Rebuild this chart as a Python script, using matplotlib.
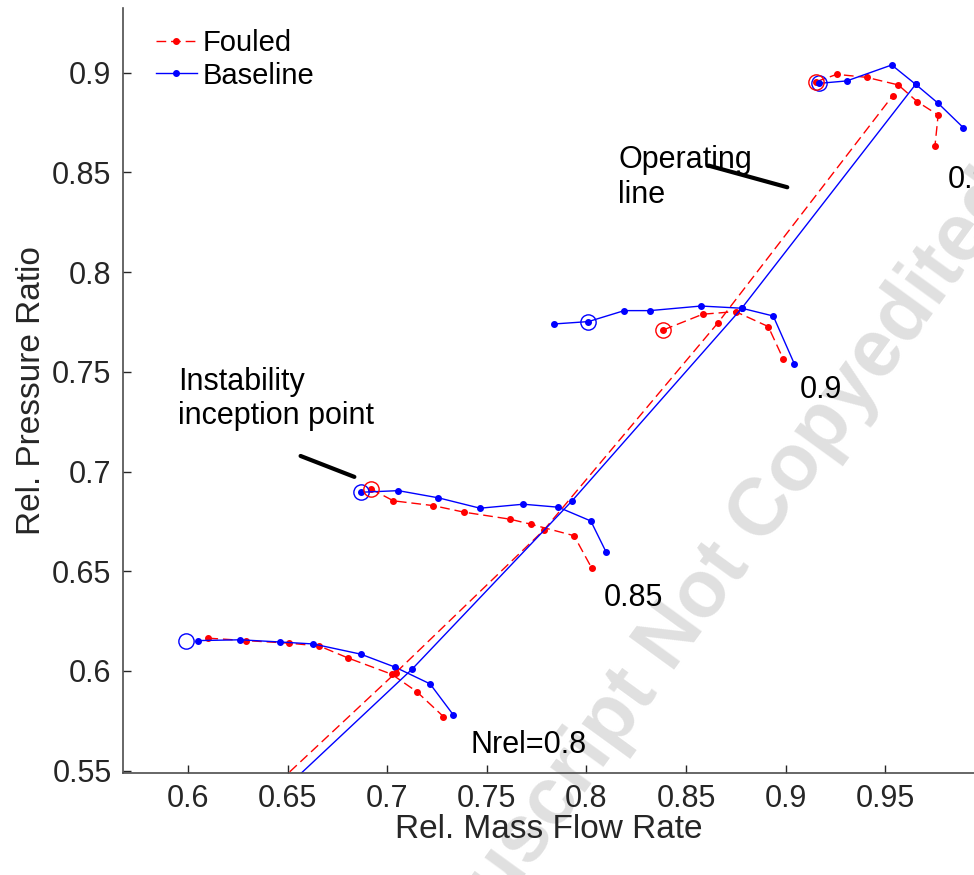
import numpy as np
import matplotlib.pyplot as plt

plt.rcParams['font.family'] = ['Liberation Sans', 'DejaVu Sans']

# Speed line Nrel = 0.8
base_x_080 = [0.6052, 0.6261, 0.6462, 0.6629, 0.6867, 0.7039, 0.7215, 0.7332]
base_y_080 = [0.6152, 0.6156, 0.6145, 0.6135, 0.6084, 0.6019, 0.5935, 0.5779]
foul_x_080 = [0.6102, 0.6291, 0.6507, 0.6659, 0.6805, 0.7023, 0.7148, 0.7282]
foul_y_080 = [0.6164, 0.6152, 0.6139, 0.6125, 0.6064, 0.5983, 0.5896, 0.5771]

# Speed line 0.85
base_x_085 = [0.6867, 0.7056, 0.7257, 0.7466, 0.7683, 0.7859, 0.8022, 0.8098]
base_y_085 = [0.6896, 0.6904, 0.6868, 0.6816, 0.6836, 0.6821, 0.6752, 0.6598]
foul_x_085 = [0.6917, 0.7031, 0.7231, 0.7386, 0.7616, 0.7720, 0.7938, 0.8027]
foul_y_085 = [0.6913, 0.6853, 0.6829, 0.6796, 0.6761, 0.6736, 0.6678, 0.6515]

# Speed line 0.9
base_x_090 = [0.7837, 0.8010, 0.8190, 0.8319, 0.8575, 0.8780, 0.8938, 0.9044]
base_y_090 = [0.7740, 0.7752, 0.7807, 0.7807, 0.7830, 0.7819, 0.7780, 0.7540]
foul_x_090 = [0.8386, 0.8584, 0.8749, 0.8913, 0.8988]
foul_y_090 = [0.7710, 0.7789, 0.7802, 0.7727, 0.7565]

# Speed line 0.95
base_x_095 = [0.9169, 0.9307, 0.9533, 0.9653, 0.9766, 0.9892]
base_y_095 = [0.8947, 0.8959, 0.9039, 0.8942, 0.8847, 0.8725]
foul_x_095 = [0.9153, 0.9257, 0.9407, 0.9566, 0.9661, 0.9766, 0.9750]
foul_y_095 = [0.8955, 0.8992, 0.8977, 0.8939, 0.8855, 0.8788, 0.8633]

# Operating lines (first point is the 0.75 speed, below the view)
op_base_x = [0.6326, 0.7126, 0.7929, 0.8780, 0.9653]
op_base_y = [0.5260, 0.6010, 0.6854, 0.7819, 0.8942]
op_foul_x = [0.6243, 0.7043, 0.7787, 0.8659, 0.9538]
op_foul_y = [0.5244, 0.5991, 0.6707, 0.7744, 0.8885]

# Instability inception points
incep_base_x = [0.5988, 0.6867, 0.8010, 0.9169]
incep_base_y = [0.6152, 0.6896, 0.7752, 0.8947]
incep_foul_x = [0.6917, 0.8386, 0.9153]
incep_foul_y = [0.6913, 0.7710, 0.8955]

speed_labels = ['Nrel=0.8', '0.85', '0.9', '0.95']
speed_label_x = [0.7416, 0.8088, 0.9072, 0.9815]
speed_label_y = [0.5629, 0.6366, 0.7409, 0.8462]

xticks = [0.6, 0.65, 0.7, 0.75, 0.8, 0.85, 0.9, 0.95]
yticks = [0.55, 0.6, 0.65, 0.7, 0.75, 0.8, 0.85, 0.9]

fig = plt.figure(figsize=(9.74, 8.75), dpi=100)
ax = fig.add_axes([0.126, 0.1166, 0.874, 0.8743])

# watermark behind everything
fig.text(0.715, 0.31, 'Manuscript Not Copyedited', rotation=54, fontsize=58,
         fontweight='bold', color='#e0e0e0', ha='center', va='center',
         zorder=-1)
ax.patch.set_alpha(0)

red = (1, 0, 0)
blue = (0, 0, 1)
kw_f = dict(color=red, ls=(0, (7, 3.5)), lw=1.0, marker='o', ms=4)
kw_b = dict(color=blue, ls='-', lw=1.0, marker='o', ms=4)

ax.plot(foul_x_080, foul_y_080, label='Fouled', **kw_f)
ax.plot(base_x_080, base_y_080, label='Baseline', **kw_b)
for fx, fy, bx, by in [(foul_x_085, foul_y_085, base_x_085, base_y_085),
                       (foul_x_090, foul_y_090, base_x_090, base_y_090),
                       (foul_x_095, foul_y_095, base_x_095, base_y_095)]:
    ax.plot(fx, fy, **kw_f)
    ax.plot(bx, by, **kw_b)

ax.plot(op_foul_x, op_foul_y, **kw_f)
ax.plot(op_base_x, op_base_y, **kw_b)

ax.plot(incep_base_x, incep_base_y, ls='none', marker='o', ms=11, mfc='none',
        mec=blue, mew=1.0)
ax.plot(incep_foul_x, incep_foul_y, ls='none', marker='o', ms=11, mfc='none',
        mec=red, mew=1.0)

for lab, lx, ly in zip(speed_labels, speed_label_x, speed_label_y):
    ax.text(lx, ly, lab, fontsize=22, ha='left', va='center', color='black')

ax.text(0.5950, 0.7364, 'Instability\ninception point', fontsize=22,
        ha='left', va='center')
ax.annotate('', xy=(0.6848, 0.6968), xytext=(0.6552, 0.7083),
            arrowprops=dict(arrowstyle='-', color='black', lw=3))
ax.text(0.8159, 0.8475, 'Operating\nline', fontsize=22, ha='left', va='center')
ax.annotate('', xy=(0.9022, 0.8422), xytext=(0.8600, 0.8538),
            arrowprops=dict(arrowstyle='-', color='black', lw=3))

ax.set_xlim(0.5672, 0.9946)
ax.set_ylim(0.5488, 0.9325)
ax.set_xticks(xticks)
ax.set_xticklabels([f'{t:g}' for t in xticks])
ax.set_yticks(yticks)
ax.set_yticklabels([f'{t:g}' for t in yticks])
ax.tick_params(direction='in', length=6, width=1, colors='#262626',
               labelsize=22, pad=8)
for s in ['top', 'right']:
    ax.spines[s].set_visible(False)
for s in ['left', 'bottom']:
    ax.spines[s].set_color('#4d4d4d')
    ax.spines[s].set_linewidth(1.2)

ax.set_xlabel('Rel. Mass Flow Rate', fontsize=24, color='#262626', labelpad=0)
ax.set_ylabel('Rel. Pressure Ratio', fontsize=24, color='#262626', labelpad=4)

ax.legend(loc='upper left', bbox_to_anchor=(0.148, 0.98),
          bbox_transform=fig.transFigure, frameon=False, fontsize=21,
          handlelength=1.4, handletextpad=0.2, labelspacing=0.15,
          borderaxespad=0)

fig.savefig('out.png', dpi=100)
